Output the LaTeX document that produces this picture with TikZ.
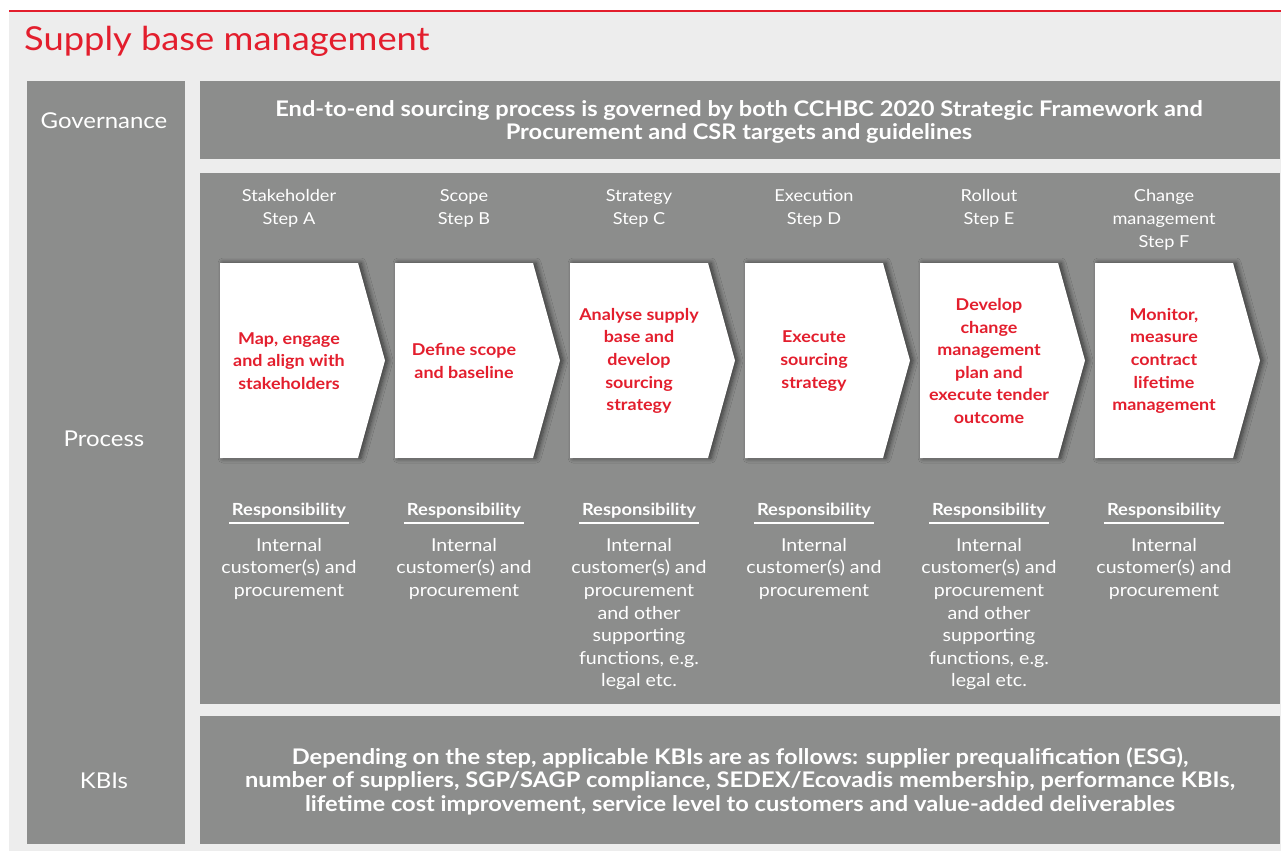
\documentclass[tikz,border=0pt]{standalone}
\usepackage{fontspec}
\setmainfont{Lato}[FakeStretch=1.1]
\usetikzlibrary{shadows.blur}
\definecolor{bggray}{HTML}{EDEDED}
\definecolor{boxgray}{HTML}{8C8D8C}
\definecolor{cred}{HTML}{E31E2D}
\newcommand{\fs}[2]{\fontsize{#1}{#2}\selectfont}
\tikzset{
  graybox/.style={fill=boxgray, draw=none},
  sidelabel/.style={text=white, font=\fs{21.8}{24}, inner sep=0pt},
  headtext/.style={text=white, font=\fs{21.5}{23.5}\bfseries, align=center, inner sep=0pt},
  stephead/.style={text=white, font=\fs{16.5}{22.6}, align=center, anchor=north, inner sep=0pt},
  chevtext/.style={text=cred, font=\fs{16.3}{22.6}\bfseries, align=center, inner sep=0pt},
  resphead/.style={text=white, font=\fs{16.7}{20}\bfseries, inner sep=0pt},
  resptext/.style={text=white, font=\fs{17.8}{22.6}, align=center, anchor=north, inner sep=0pt},
  chevron/.style={fill=white, draw=none, blur shadow={shadow xshift=3pt, shadow yshift=0pt, shadow blur steps=8, shadow opacity=60, shadow blur radius=5pt}},
  uline/.style={draw=white, line width=1.2pt}
}
\begin{document}
\begin{tikzpicture}[x=1pt,y=-1pt]
\useasboundingbox (0,0) rectangle (1281,851);
\fill[white] (0,0) rectangle (1281,851);
\fill[bggray] (9,11) rectangle (1281,851);
\draw[cred, line width=1.3pt] (9,11) -- (1281,11);
\node[anchor=base west, inner sep=0pt, text=cred, font=\fs{33}{36}] (title) at (24,51) {Supply base management};

% left column
\fill[graybox] (27,81) rectangle (185,844);
\node[sidelabel] (gov) at (104,120.5) {Governance};
\node[sidelabel] (proc) at (104,438.5) {Process};
\node[sidelabel] (kbi) at (104,780.5) {KBIs};

% governance row
\fill[graybox] (200,81) rectangle (1280,159);
\node[headtext] (govtext) at (739,122) {End-to-end sourcing process is governed by both CCHBC 2020 Strategic Framework and\\Procurement and CSR targets and guidelines};

% process area
\fill[graybox] (200,173) rectangle (1280,704);

% KBI row
\fill[graybox] (200,716) rectangle (1280,844);
\node[headtext] (kbitext) at (740,781) {Depending on the step, applicable KBIs are as follows: supplier prequalification (ESG),\\number of suppliers, SGP/SAGP compliance, SEDEX/Ecovadis membership, performance KBIs,\\lifetime cost improvement, service level to customers and value-added deliverables};

% steps
\foreach \i/\head/\chev/\resp in {
  0/{Stakeholder\\Step A}/{Map, engage\\and align with\\stakeholders}/{Internal\\customer(s) and\\procurement},
  1/{Scope\\Step B}/{Define scope\\and baseline}/{Internal\\customer(s) and\\procurement},
  2/{Strategy\\Step C}/{Analyse supply\\base and\\develop\\sourcing\\strategy}/{Internal\\customer(s) and\\procurement\\and other\\supporting\\functions, e.g.\\legal etc.},
  3/{Execution\\Step D}/{Execute\\sourcing\\strategy}/{Internal\\customer(s) and\\procurement},
  4/{Rollout\\Step E}/{Develop\\change\\management\\plan and\\execute tender\\outcome}/{Internal\\customer(s) and\\procurement\\and other\\supporting\\functions, e.g.\\legal etc.},
  5/{Change\\management\\Step F}/{Monitor,\\measure\\contract\\lifetime\\management}/{Internal\\customer(s) and\\procurement}}
{
  \pgfmathsetmacro{\xl}{220+175*\i}
  \pgfmathsetmacro{\xc}{289+175*\i}
  \pgfmathsetmacro{\xr}{358+175*\i}
  \pgfmathsetmacro{\xt}{385+175*\i}
  \node[stephead] (head\i) at (\xc,189.5) {\head};
  \path[chevron] (\xl,263) -- (\xr,263) -- (\xt,360.5) -- (\xr,458) -- (\xl,458) -- cycle;
  \node[chevtext] (chev\i) at (\xc,361) {\chev};
  \node[resphead] (rh\i) at (\xc,511) {Responsibility};
  \coordinate (ula\i) at (\xc-60,523);
  \coordinate (ulb\i) at (\xc+60,523);
  \draw[uline] (ula\i) -- (ulb\i);
  \node[resptext] (rt\i) at (\xc,538) {\resp};
}
\end{tikzpicture}
\end{document}
